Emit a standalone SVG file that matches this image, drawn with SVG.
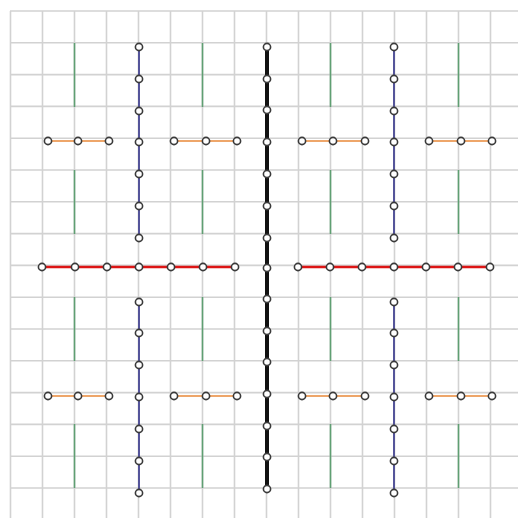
<svg xmlns="http://www.w3.org/2000/svg" width="518" height="518" viewBox="0 0 518 518">
<style>
.grid line{stroke:#d2d2d2;stroke-width:1.6}
.green{stroke:#5f9f72;stroke-width:1.6}
.orange{stroke:#eea66a;stroke-width:1.8}
.blue{stroke:#55559a;stroke-width:2}
.red{stroke:#dd1515;stroke-width:2.6}
.black{stroke:#111;stroke-width:4}
</style>
<defs><circle id="n" r="3.6" fill="#fff" stroke="#3a3a3a" stroke-width="1.6"/></defs>
<rect width="518" height="518" fill="#fff"/>
<g class="grid">
<line x1="10.5" y1="11" x2="10.5" y2="518"/><line x1="42.5" y1="11" x2="42.5" y2="518"/><line x1="74.5" y1="11" x2="74.5" y2="518"/><line x1="106.5" y1="11" x2="106.5" y2="518"/><line x1="138.5" y1="11" x2="138.5" y2="518"/><line x1="170.5" y1="11" x2="170.5" y2="518"/><line x1="202.5" y1="11" x2="202.5" y2="518"/><line x1="234.5" y1="11" x2="234.5" y2="518"/><line x1="266.5" y1="11" x2="266.5" y2="518"/><line x1="298.5" y1="11" x2="298.5" y2="518"/><line x1="330.5" y1="11" x2="330.5" y2="518"/><line x1="362.5" y1="11" x2="362.5" y2="518"/><line x1="394.5" y1="11" x2="394.5" y2="518"/><line x1="426.5" y1="11" x2="426.5" y2="518"/><line x1="458.5" y1="11" x2="458.5" y2="518"/><line x1="490.5" y1="11" x2="490.5" y2="518"/>
<line x1="10" y1="11" x2="518" y2="11"/><line x1="10" y1="42.8" x2="518" y2="42.8"/><line x1="10" y1="74.6" x2="518" y2="74.6"/><line x1="10" y1="106.4" x2="518" y2="106.4"/><line x1="10" y1="138.2" x2="518" y2="138.2"/><line x1="10" y1="170" x2="518" y2="170"/><line x1="10" y1="201.8" x2="518" y2="201.8"/><line x1="10" y1="233.6" x2="518" y2="233.6"/><line x1="10" y1="265.4" x2="518" y2="265.4"/><line x1="10" y1="297.2" x2="518" y2="297.2"/><line x1="10" y1="329" x2="518" y2="329"/><line x1="10" y1="360.8" x2="518" y2="360.8"/><line x1="10" y1="392.6" x2="518" y2="392.6"/><line x1="10" y1="424.4" x2="518" y2="424.4"/><line x1="10" y1="456.2" x2="518" y2="456.2"/><line x1="10" y1="488" x2="518" y2="488"/>
</g>
<g id="connectors">
<g class="green">
<line x1="74.5" y1="43" x2="74.5" y2="107"/><line x1="74.5" y1="170" x2="74.5" y2="234"/><line x1="74.5" y1="297" x2="74.5" y2="361"/><line x1="74.5" y1="424" x2="74.5" y2="488"/>
<line x1="202.5" y1="43" x2="202.5" y2="107"/><line x1="202.5" y1="170" x2="202.5" y2="234"/><line x1="202.5" y1="297" x2="202.5" y2="361"/><line x1="202.5" y1="424" x2="202.5" y2="488"/>
<line x1="330.5" y1="43" x2="330.5" y2="107"/><line x1="330.5" y1="170" x2="330.5" y2="234"/><line x1="330.5" y1="297" x2="330.5" y2="361"/><line x1="330.5" y1="424" x2="330.5" y2="488"/>
<line x1="458.5" y1="43" x2="458.5" y2="107"/><line x1="458.5" y1="170" x2="458.5" y2="234"/><line x1="458.5" y1="297" x2="458.5" y2="361"/><line x1="458.5" y1="424" x2="458.5" y2="488"/>
</g>
<g class="orange">
<line x1="48" y1="141" x2="109" y2="141"/><line x1="174" y1="141" x2="237" y2="141"/><line x1="302" y1="141" x2="365" y2="141"/><line x1="429" y1="141" x2="492" y2="141"/>
<line x1="48" y1="396" x2="109" y2="396"/><line x1="174" y1="396" x2="237" y2="396"/><line x1="302" y1="396" x2="365" y2="396"/><line x1="429" y1="396" x2="492" y2="396"/>
</g>
<g class="blue">
<line x1="139" y1="47" x2="139" y2="238"/><line x1="139" y1="302" x2="139" y2="493"/>
<line x1="394" y1="47" x2="394" y2="238"/><line x1="394" y1="302" x2="394" y2="493"/>
</g>
<g class="red">
<line x1="42" y1="267" x2="235" y2="267"/><line x1="298" y1="267" x2="490" y2="267"/>
</g>
<line class="black" x1="267" y1="47" x2="267" y2="489"/>
</g>
<g id="nodes">
<g id="k1"><use href="#n" x="267" y="47"/></g><g id="k2"><use href="#n" x="267" y="79"/></g><g id="k3"><use href="#n" x="267" y="110"/></g><g id="k4"><use href="#n" x="267" y="142"/></g><g id="k5"><use href="#n" x="267" y="174"/></g><g id="k6"><use href="#n" x="267" y="206"/></g><g id="k7"><use href="#n" x="267" y="238"/></g><g id="k8"><use href="#n" x="267" y="268"/></g><g id="k9"><use href="#n" x="267" y="299"/></g><g id="k10"><use href="#n" x="267" y="331"/></g><g id="k11"><use href="#n" x="267" y="362"/></g><g id="k12"><use href="#n" x="267" y="394"/></g><g id="k13"><use href="#n" x="267" y="426"/></g><g id="k14"><use href="#n" x="267" y="457"/></g><g id="k15"><use href="#n" x="267" y="489"/></g>
<g id="bl1"><use href="#n" x="139" y="47"/></g><g id="bl2"><use href="#n" x="139" y="79"/></g><g id="bl3"><use href="#n" x="139" y="111"/></g><g id="bl4"><use href="#n" x="139" y="142"/></g><g id="bl5"><use href="#n" x="139" y="174"/></g><g id="bl6"><use href="#n" x="139" y="206"/></g><g id="bl7"><use href="#n" x="139" y="238"/></g>
<g id="bl8"><use href="#n" x="139" y="302"/></g><g id="bl9"><use href="#n" x="139" y="333"/></g><g id="bl10"><use href="#n" x="139" y="365"/></g><g id="bl11"><use href="#n" x="139" y="397"/></g><g id="bl12"><use href="#n" x="139" y="429"/></g><g id="bl13"><use href="#n" x="139" y="461"/></g><g id="bl14"><use href="#n" x="139" y="493"/></g>
<g id="br1"><use href="#n" x="394" y="47"/></g><g id="br2"><use href="#n" x="394" y="79"/></g><g id="br3"><use href="#n" x="394" y="111"/></g><g id="br4"><use href="#n" x="394" y="142"/></g><g id="br5"><use href="#n" x="394" y="174"/></g><g id="br6"><use href="#n" x="394" y="206"/></g><g id="br7"><use href="#n" x="394" y="238"/></g>
<g id="br8"><use href="#n" x="394" y="302"/></g><g id="br9"><use href="#n" x="394" y="333"/></g><g id="br10"><use href="#n" x="394" y="365"/></g><g id="br11"><use href="#n" x="394" y="397"/></g><g id="br12"><use href="#n" x="394" y="429"/></g><g id="br13"><use href="#n" x="394" y="461"/></g><g id="br14"><use href="#n" x="394" y="493"/></g>
<g id="r1"><use href="#n" x="42" y="267"/></g><g id="r2"><use href="#n" x="75" y="267"/></g><g id="r3"><use href="#n" x="107" y="267"/></g><g id="r4"><use href="#n" x="139" y="267"/></g><g id="r5"><use href="#n" x="171" y="267"/></g><g id="r6"><use href="#n" x="203" y="267"/></g><g id="r7"><use href="#n" x="235" y="267"/></g>
<g id="r8"><use href="#n" x="298" y="267"/></g><g id="r9"><use href="#n" x="330" y="267"/></g><g id="r10"><use href="#n" x="362" y="267"/></g><g id="r11"><use href="#n" x="394" y="267"/></g><g id="r12"><use href="#n" x="426" y="267"/></g><g id="r13"><use href="#n" x="458" y="267"/></g><g id="r14"><use href="#n" x="490" y="267"/></g>
<g id="ot1"><use href="#n" x="48" y="141"/></g><g id="ot2"><use href="#n" x="78" y="141"/></g><g id="ot3"><use href="#n" x="109" y="141"/></g><g id="ot4"><use href="#n" x="174" y="141"/></g><g id="ot5"><use href="#n" x="206" y="141"/></g><g id="ot6"><use href="#n" x="237" y="141"/></g><g id="ot7"><use href="#n" x="302" y="141"/></g><g id="ot8"><use href="#n" x="333" y="141"/></g><g id="ot9"><use href="#n" x="365" y="141"/></g><g id="ot10"><use href="#n" x="429" y="141"/></g><g id="ot11"><use href="#n" x="461" y="141"/></g><g id="ot12"><use href="#n" x="492" y="141"/></g>
<g id="ob1"><use href="#n" x="48" y="396"/></g><g id="ob2"><use href="#n" x="78" y="396"/></g><g id="ob3"><use href="#n" x="109" y="396"/></g><g id="ob4"><use href="#n" x="174" y="396"/></g><g id="ob5"><use href="#n" x="206" y="396"/></g><g id="ob6"><use href="#n" x="237" y="396"/></g><g id="ob7"><use href="#n" x="302" y="396"/></g><g id="ob8"><use href="#n" x="333" y="396"/></g><g id="ob9"><use href="#n" x="365" y="396"/></g><g id="ob10"><use href="#n" x="429" y="396"/></g><g id="ob11"><use href="#n" x="461" y="396"/></g><g id="ob12"><use href="#n" x="492" y="396"/></g>
</g>
</svg>
